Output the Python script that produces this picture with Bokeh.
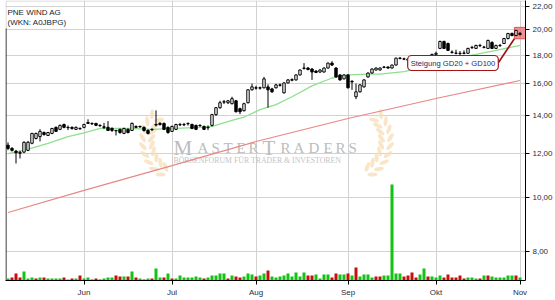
import math
from bokeh.plotting import figure
from bokeh.models import (Range1d, LinearScale, FixedTicker, CustomJSTickFormatter,
                          Label, ColumnDataSource)
from bokeh.core.properties import value
from bokeh.embed import file_html
from bokeh.resources import INLINE

# ---------------- data ----------------
month_labels = ["Jun", "Jul", "Aug", "Sep", "Okt", "Nov"]
month_idx = [19, 41, 62, 85, 107, 128]          # trading-day index of month start
price_ticks = [8, 10, 12, 14, 16, 18, 20, 22]

open_ = [12.40, 12.24, 12.10, 11.99, 12.05, 12.14, 12.50, 12.75, 12.85, 13.07,
         12.91, 13.02, 13.35, 13.24, 13.51, 13.35, 13.35, 13.24, 13.29, 13.35,
         13.62, 13.57, 13.57, 13.46, 13.38, 13.35, 13.29, 13.18, 13.24, 13.02,
         13.24, 13.18, 13.40, 13.40, 13.35, 13.18, 13.24, 13.51, 13.57, 13.57,
         13.35, 13.13, 13.24, 13.51, 13.51, 13.57, 13.51, 13.46, 13.46, 13.40,
         13.35, 13.46, 14.07, 14.48, 14.84, 14.78, 14.72, 14.90, 14.42, 14.30,
         14.78, 15.59, 15.72, 15.72, 15.72, 15.78, 15.65, 15.72, 15.91, 15.40,
         16.04, 16.22, 16.24, 16.58, 17.06, 17.06, 16.99, 16.85, 16.78, 16.78,
         17.06, 17.41, 17.06, 16.58, 16.31, 16.58, 16.15, 15.15, 15.46, 15.78,
         16.44, 16.71, 16.92, 16.92, 17.13, 17.13, 17.06, 17.27, 17.77, 17.70,
         17.70, 17.62, 17.45, 17.62, 17.80, 17.90, 17.85, 18.05, 18.50, 19.04,
         18.88, 18.22, 18.13, 18.13, 18.15, 18.13, 18.58, 18.50, 18.73, 18.58,
         18.50, 18.96, 18.50, 18.73, 18.88, 19.27, 19.68, 19.51, 19.68]
high = [12.55, 12.30, 12.16, 12.12, 12.60, 12.62, 13.05, 13.06, 13.25, 13.12,
        13.10, 13.32, 13.40, 13.50, 13.56, 13.45, 13.40, 13.40, 13.35, 13.55,
        13.80, 13.62, 13.60, 13.52, 13.60, 13.70, 13.35, 13.22, 13.28, 13.33,
        13.30, 13.62, 13.46, 13.45, 13.40, 13.24, 13.30, 14.32, 13.65, 13.62,
        13.40, 13.45, 13.55, 13.60, 13.60, 13.62, 13.56, 13.50, 13.52, 13.45,
        13.46, 14.12, 14.52, 14.90, 14.95, 14.95, 15.15, 14.95, 14.48, 14.78,
        15.62, 16.00, 15.85, 15.80, 16.45, 15.95, 15.72, 15.98, 16.00, 16.08,
        16.30, 16.35, 16.62, 16.96, 17.41, 17.12, 17.05, 16.90, 16.98, 17.10,
        17.45, 17.55, 17.12, 16.62, 16.62, 16.62, 16.22, 16.00, 15.95, 16.28,
        16.75, 17.03, 17.10, 17.10, 17.20, 17.18, 17.30, 17.80, 17.85, 17.80,
        17.76, 17.68, 17.66, 17.84, 17.95, 17.96, 18.10, 18.25, 19.10, 19.10,
        18.95, 18.35, 18.40, 18.30, 18.35, 18.55, 18.70, 18.78, 18.85, 18.70,
        19.18, 19.05, 18.78, 18.85, 19.32, 19.72, 19.75, 19.98, 19.80]
low = [12.15, 12.08, 11.50, 11.74, 12.00, 12.10, 12.45, 12.70, 12.60, 12.90,
       12.88, 12.98, 13.10, 13.20, 13.30, 13.20, 13.22, 13.20, 13.22, 13.30,
       13.55, 13.48, 13.42, 13.38, 13.25, 13.15, 13.10, 12.91, 13.00, 12.98,
       13.02, 13.15, 13.30, 13.32, 13.12, 12.96, 13.15, 13.40, 13.45, 13.20,
       13.00, 13.10, 13.20, 13.42, 13.42, 13.45, 13.25, 13.20, 13.38, 13.20,
       13.20, 13.40, 14.00, 14.42, 14.70, 14.70, 14.68, 14.20, 14.10, 14.26,
       14.74, 15.55, 15.60, 15.60, 15.68, 14.48, 15.40, 15.68, 15.80, 15.35,
       16.00, 16.15, 16.20, 16.54, 16.95, 16.90, 16.24, 16.70, 16.72, 16.74,
       17.02, 17.20, 16.40, 16.20, 16.28, 15.68, 15.59, 15.00, 15.42, 15.74,
       16.40, 16.67, 16.88, 16.88, 17.05, 17.00, 17.02, 17.24, 17.68, 17.62,
       17.55, 17.40, 17.40, 17.58, 17.76, 17.80, 17.80, 17.95, 18.45, 18.45,
       18.30, 18.10, 18.05, 18.00, 18.05, 18.10, 18.45, 18.45, 18.60, 18.50,
       18.45, 18.45, 18.45, 18.62, 18.84, 19.20, 19.45, 19.46, 19.50]
close = [12.24, 12.14, 12.02, 12.04, 12.55, 12.55, 13.02, 13.02, 13.13, 12.96,
         13.07, 13.29, 13.13, 13.46, 13.35, 13.33, 13.29, 13.35, 13.27, 13.51,
         13.57, 13.55, 13.46, 13.44, 13.35, 13.18, 13.18, 13.16, 13.07, 13.29,
         13.07, 13.57, 13.35, 13.38, 13.18, 13.02, 13.22, 13.48, 13.51, 13.24,
         13.07, 13.40, 13.51, 13.49, 13.49, 13.55, 13.29, 13.24, 13.44, 13.24,
         13.33, 14.07, 14.48, 14.78, 14.82, 14.90, 15.03, 14.24, 14.24, 14.72,
         15.59, 15.78, 15.70, 15.70, 16.31, 15.59, 15.46, 15.91, 15.89, 16.04,
         16.24, 16.26, 16.58, 16.92, 17.04, 16.95, 16.78, 16.75, 16.92, 17.06,
         17.41, 17.27, 16.44, 16.24, 16.58, 15.72, 16.11, 15.46, 15.91, 16.24,
         16.71, 16.99, 17.06, 17.06, 17.11, 17.06, 17.27, 17.77, 17.75, 17.72,
         17.62, 17.45, 17.62, 17.80, 17.90, 17.85, 18.05, 18.13, 19.04, 18.50,
         18.35, 18.20, 18.15, 18.11, 18.13, 18.50, 18.56, 18.73, 18.71, 18.60,
         19.12, 18.50, 18.73, 18.71, 19.27, 19.68, 19.51, 19.92, 19.60]

# volume in thousand shares, and its bar colour (g = up, r = down)
volume_k = [20, 30, 70, 30, 90, 20, 30, 20, 30, 30,
            20, 20, 20, 20, 30, 10, 20, 20, 50, 20,
            30, 10, 20, 10, 20, 30, 30, 50, 40, 40,
            40, 90, 30, 20, 10, 20, 20, 120, 30, 30,
            70, 20, 20, 50, 30, 30, 30, 40, 30, 20,
            30, 50, 50, 70, 70, 20, 50, 40, 30, 40,
            70, 60, 40, 50, 70, 100, 40, 30, 40, 50,
            70, 40, 80, 40, 80, 50, 50, 60, 20, 60,
            60, 30, 70, 60, 60, 70, 50, 130, 40, 60,
            60, 30, 40, 40, 50, 50, 960, 70, 70, 40,
            50, 80, 30, 60, 120, 40, 40, 30, 50, 30,
            60, 30, 30, 50, 20, 30, 30, 20, 20, 50,
            50, 40, 30, 30, 30, 50, 50, 50, 30]
volume_dir = ("grrrgggrgr" "ggggrgrgrg" "grrrgggrrg" "rgrgrgrggr"
              "grgggggggr" "gggggrgrrg" "ggrggrgggg" "gggggrrggg"
              "grrggrgrgg" "ggrrgggggr" "rrrggrgggr" "rrrrrgggrg"
              "rggggggrg")

# moving averages (index, value)
gd20_idx = [0, 4, 10, 15, 19, 23, 30, 36, 42, 48, 51, 56, 59, 63, 67, 71, 76,
            81, 85, 90, 93, 99, 103, 107, 112, 117, 122, 128]
gd20_val = [11.98, 12.14, 12.50, 12.85, 13.05, 13.29, 13.29, 13.24, 13.29,
            13.35, 13.40, 13.74, 13.92, 14.36, 14.66, 15.15, 15.85, 16.37,
            16.58, 16.64, 16.64, 16.81, 17.06, 17.41, 17.77, 18.05, 18.35,
            18.73]
gd100_idx = [0, 19, 41, 62, 85, 107, 128]
gd100_val = [9.39, 10.29, 11.40, 12.59, 13.85, 15.04, 16.20]

# ---------------- figure ----------------
N = len(close)
Y_TOP, Y_BOT = 22.55, 7.09
FRAME_H = 280
LN_T, LN_B = math.log(Y_TOP), math.log(Y_BOT)


def dx(sx):
    return (sx - 7.5) / 4.0


def dy(sy):
    return math.exp(LN_T - sy / FRAME_H * (LN_T - LN_B))


p = figure(width=555, height=300, y_axis_type="log", y_axis_location="right",
           x_range=Range1d(-0.625, N + 0.375), y_range=Range1d(Y_BOT, Y_TOP),
           output_backend="svg", toolbar_location=None,
           min_border_left=5, min_border_right=30, min_border_top=0,
           min_border_bottom=20)
p.outline_line_color = None
p.background_fill_color = "white"
p.border_fill_color = "white"

p.extra_y_ranges = {"vol": Range1d(0, 2800)}
p.extra_y_scales = {"vol": LinearScale()}

# axes
AX_FONT = "Liberation Sans"
p.yaxis.ticker = FixedTicker(ticks=price_ticks)
p.yaxis.formatter = CustomJSTickFormatter(code="return tick.toFixed(2).replace('.', ',');")
p.xaxis.ticker = FixedTicker(ticks=month_idx)
p.xaxis.formatter = CustomJSTickFormatter(
    args=dict(idx=month_idx, lab=month_labels),
    code="const k = idx.indexOf(Math.round(tick)); return k >= 0 ? lab[k] : '';")
for ax in (p.xaxis[0], p.yaxis[0]):
    ax.axis_line_color = "black"
    ax.axis_line_width = 1
    ax.major_tick_line_color = "black"
    ax.major_tick_out = 4
    ax.major_tick_in = 0
    ax.minor_tick_out = 0
    ax.minor_tick_in = 0
    ax.major_label_text_font = AX_FONT
    ax.major_label_text_font_size = "8px"
    ax.major_label_text_color = "#2b2b3b"
    ax.major_label_standoff = 3

p.xgrid.ticker = FixedTicker(ticks=month_idx)
p.ygrid.ticker = FixedTicker(ticks=price_ticks)
for g in (p.xgrid[0], p.ygrid[0]):
    g.grid_line_color = "#d2d2d2"
    g.grid_line_width = 1

# frame edges: gray top border, title box edge, black left line below the title
p.segment(x0=[-0.5, -0.5], y0=[dy(0.5), dy(28)], x1=[N + 0.375, -0.5],
          y1=[dy(0.5), dy(0.5)], line_color="#cfcfcf", line_width=1)
p.segment(x0=[-0.5], y0=[dy(28)], x1=[-0.5], y1=[Y_BOT], line_color="black",
          line_width=1)

# ---------------- watermark ----------------
wm_letters = list("MASTERTRADERS")
wm_sx = [173, 197, 211, 223, 236, 248, 262, 280, 293, 308, 323, 335, 348]
wm_big = [1, 0, 0, 0, 0, 0, 1, 0, 0, 0, 0, 0, 0]
wm = ColumnDataSource(dict(
    x=[dx(s) for s in wm_sx], y=[dy(147)] * len(wm_sx), t=wm_letters,
    fs=["21px" if b else "15px" for b in wm_big]))
p.text(x="x", y="y", text="t", source=wm, text_font=value("Liberation Serif"),
       text_font_size="fs", text_color="#bcbcbc", text_align="left",
       text_baseline="alphabetic")
p.text(x=[dx(173)], y=[dy(160)], text=["BÖRSENFORUM FÜR TRADER & INVESTOREN"],
       text_font=value("Liberation Serif"), text_font_size="7.8px",
       text_color="#c4c4c4", text_align="left", text_baseline="alphabetic")

# laurel wreaths
lx, ly, la = [], [], []
for side, cx in ((1, 183.0), (-1, 349.0)):
    cy, R = 140.0, 36.0
    for k in range(9):
        th = math.radians(140 + k * 12)
        for off, tilt in ((5.0, 35.0), (-4.0, -35.0)):
            r = R + off
            sx = cx + side * r * math.cos(th)
            sy = cy - r * math.sin(th)
            ang = th + math.radians(90 + tilt)
            if side < 0:
                ang = math.pi - ang
            lx.append(dx(sx))
            ly.append(dy(sy))
            la.append(ang)
p.ellipse(x=lx, y=ly, width=10, height=4, angle=la, width_units="screen",
          height_units="screen", fill_color="#f8dcb4", fill_alpha=0.75,
          line_color=None)

# ---------------- volume ----------------
vg = [i for i in range(N) if volume_dir[i] == "g"]
vr = [i for i in range(N) if volume_dir[i] == "r"]
p.vbar(x=vg, top=[volume_k[i] for i in vg], bottom=0, width=0.75,
       y_range_name="vol", fill_color="#12c412", line_color=None)
p.vbar(x=vr, top=[volume_k[i] for i in vr], bottom=0, width=0.75,
       y_range_name="vol", fill_color="#c80f0f", line_color=None)

# ---------------- moving averages ----------------
p.line(gd100_idx, gd100_val, line_color="#e88787", line_width=1.2)
p.line(gd20_idx, gd20_val, line_color="#8fdf8f", line_width=1.3)

# highlight square around the last candles
last = N - 1
sq_top = max(high[-3:]) * 1.01
sq_bot = min(low[-3:]) * 0.99
p.quad(left=[last - 1.4], right=[last + 1.4], top=[sq_top], bottom=[sq_bot],
       fill_color="#f07a7a", fill_alpha=0.85, line_color="#e05555")

# ---------------- candles ----------------
idx = list(range(N))
p.segment(x0=idx, y0=low, x1=idx, y1=high, line_color="black", line_width=1)
up = [i for i in idx if close[i] >= open_[i]]
dn = [i for i in idx if close[i] < open_[i]]
p.vbar(x=up, bottom=[open_[i] for i in up], top=[close[i] for i in up], width=0.6,
       fill_color="white", line_color="black", line_width=1)
p.vbar(x=dn, bottom=[close[i] for i in dn], top=[open_[i] for i in dn], width=0.6,
       fill_color="black", line_color="black", line_width=1)

# ---------------- annotation ----------------
p.segment(x0=[dx(498)], y0=[dy(62)], x1=[last - 1.4], y1=[sq_bot],
          line_color="#9e1010", line_width=1.6)
p.add_layout(Label(x=dx(452.5), y=dy(62.5), text="Steigung GD20 + GD100",
                   text_align="center", text_baseline="middle",
                   text_font="Liberation Sans", text_font_size="7.6px",
                   text_color="#1c2c6c", background_fill_color="white",
                   border_line_color="#a31515", border_line_width=1.2,
                   border_radius=4, padding=3))

# ---------------- title ----------------
p.add_layout(Label(x=dx(7), y=dy(7), text="PNE WIND AG", text_align="left",
                   text_baseline="top", text_font=AX_FONT, text_font_size="8px",
                   text_color="#1a1a2a"))
p.add_layout(Label(x=dx(7), y=dy(17), text="(WKN: A0JBPG)", text_align="left",
                   text_baseline="top", text_font=AX_FONT, text_font_size="8px",
                   text_color="#1a1a2a"))

open("out.html", "w").write(file_html(p, INLINE))
